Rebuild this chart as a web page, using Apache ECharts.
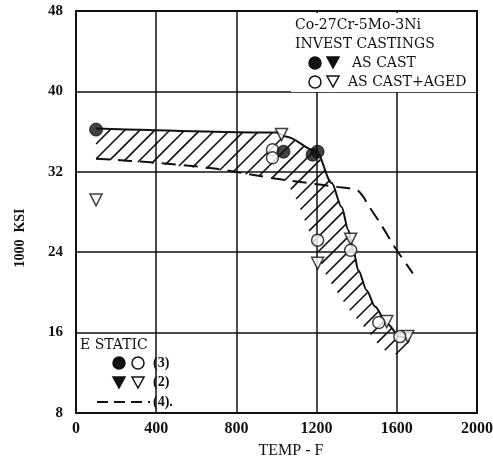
<!DOCTYPE html>
<html>
<head>
<meta charset="utf-8">
<script src="https://cdn.jsdelivr.net/npm/echarts@6/dist/echarts.min.js"></script>
<style>
  html, body { margin: 0; padding: 0; background: #fff; }
  #chart { width: 493px; height: 461px; }
</style>
</head>
<body>
<div id="chart"></div>
<script>
// ---- data ----
// axes
const xTicks = [0, 400, 800, 1200, 1600, 2000]
const yTicks = [8, 16, 24, 32, 40, 48]

// solid upper curve (top edge of the hatched band)
const upperX = [100, 1000, 1050, 1200, 1275, 1325, 1358, 1383, 1408, 1450, 1491, 1550, 1616, 1665]
const upperY = [36.3, 35.9, 35.5, 34.0, 30.9, 28.5, 26.2, 24.2, 22.2, 20.2, 18.6, 16.9, 15.6, 15.3]

// lower edge of the hatched band (right to left)
const lowX = [1640, 1580, 1520, 1450, 1380, 1320, 1250, 1200, 1165, 1100, 1050, 900, 700, 400, 100]
const lowY = [14.3, 13.7, 14.5, 16.3, 17.8, 19.5, 21.6, 24.0, 26.0, 29.2, 31.1, 31.6, 32.2, 32.8, 33.3]

// dashed curve (4)
const dashX = [100, 400, 700, 1000, 1150, 1300, 1400, 1430, 1460, 1520, 1590, 1680]
const dashY = [33.3, 32.9, 32.3, 31.3, 30.9, 30.5, 30.2, 29.6, 28.6, 26.8, 24.5, 21.9]

// as cast, filled circles
const castCircleX = [100, 1035, 1180, 1205]
const castCircleY = [36.2, 34.0, 33.7, 34.0]

// as cast + aged, open circles
const agedCircleX = [980, 980, 1205, 1370, 1510, 1615]
const agedCircleY = [34.2, 33.4, 25.2, 24.2, 17.0, 15.6]

// as cast + aged, open triangles
const agedTriX = [100, 1025, 1205, 1370, 1550, 1655]
const agedTriY = [29.2, 35.7, 22.9, 25.3, 17.1, 15.6]

// ---- helpers ----
const zip = (xs, ys) => xs.map((x, i) => [x, ys[i]])
const FONT = 'Liberation Serif'
const LEG_FONT = 'DejaVu Serif'
const INK = '#111'

/**
 * 斜线阴影: 像素空间里 x + y = c 的线段, 裁剪到多边形内
 */
function hatchSegments(poly, step) {
  let minC = Infinity
  let maxC = -Infinity
  poly.forEach(([x, y]) => {
    minC = Math.min(minC, x + y)
    maxC = Math.max(maxC, x + y)
  })
  const segs = []
  for (let c = Math.ceil(minC / step) * step; c <= maxC; c += step) {
    const xs = []
    for (let i = 0; i < poly.length; i++) {
      const [x1, y1] = poly[i]
      const [x2, y2] = poly[(i + 1) % poly.length]
      const f1 = x1 + y1 - c
      const f2 = x2 + y2 - c
      if ((f1 < 0) !== (f2 < 0)) {
        const t = f1 / (f1 - f2)
        xs.push(x1 + t * (x2 - x1))
      }
    }
    xs.sort((a, b) => a - b)
    for (let j = 0; j + 1 < xs.length; j += 2) {
      segs.push([xs[j], c - xs[j], xs[j + 1], c - xs[j + 1]])
    }
  }
  return segs
}

const bandPoly = zip(upperX, upperY).concat(zip(lowX, lowY))

const chart = echarts.init(document.getElementById('chart'), null, { renderer: 'canvas' })

const triDown = (cx, cy, filled) => ({
  type: 'polygon',
  shape: { points: [[cx - 6, cy - 5], [cx + 6, cy - 5], [cx, cy + 6]] },
  style: { fill: filled ? INK : '#fff', stroke: INK, lineWidth: 1.5 },
  z: 100
})
const dot = (cx, cy, filled) => ({
  type: 'circle',
  shape: { cx: cx, cy: cy, r: 6 },
  style: { fill: filled ? INK : '#fff', stroke: INK, lineWidth: 1.5 },
  z: 100
})
const label = (x, y, text, size, weight, family) => ({
  type: 'text',
  x: x,
  y: y,
  style: {
    text: text,
    fill: INK,
    font: (weight || 'normal') + ' ' + (size || 14) + 'px "' + (family || LEG_FONT) + '"',
    verticalAlign: 'middle'
  },
  z: 100
})

const option = {
  animation: false,
  backgroundColor: '#fff',
  grid: {
    left: 76, right: 16, top: 11, bottom: 48,
    containLabel: false,
    outerBoundsMode: 'none',
    show: true,
    borderColor: INK,
    borderWidth: 2
  },
  xAxis: {
    type: 'value',
    min: xTicks[0],
    max: xTicks[xTicks.length - 1],
    interval: 400,
    axisLine: { show: true, lineStyle: { color: INK, width: 2 } },
    axisTick: { show: false },
    splitLine: { show: true, lineStyle: { color: INK, width: 1.5 } },
    axisLabel: {
      color: INK, fontFamily: FONT, fontSize: 16, fontWeight: 'bold', margin: 8,
      showMinLabel: true, showMaxLabel: true,
      formatter: v => String(v)
    }
  },
  yAxis: {
    type: 'value',
    min: yTicks[0],
    max: yTicks[yTicks.length - 1],
    interval: 8,
    axisLine: { show: true, lineStyle: { color: INK, width: 2 } },
    axisTick: { show: false },
    splitLine: { show: true, lineStyle: { color: INK, width: 1.5 } },
    axisLabel: {
      color: INK, fontFamily: FONT, fontSize: 15, fontWeight: 'bold', margin: 13,
      showMinLabel: true, showMaxLabel: true,
      formatter: v => String(v)
    }
  },
  series: [
    {
      // 阴影带
      type: 'custom',
      data: [[0, 0]],
      clip: true,
      z: 2,
      renderItem: (params, api) => {
        const pts = bandPoly.map(p => api.coord(p))
        return {
          type: 'group',
          children: hatchSegments(pts, 15).map(s => ({
            type: 'line',
            shape: { x1: s[0], y1: s[1], x2: s[2], y2: s[3] },
            style: { stroke: INK, lineWidth: 1.6 }
          }))
        }
      }
    },
    {
      type: 'line',
      data: zip(upperX, upperY),
      smooth: 0.3,
      smoothMonotone: 'x',
      symbol: 'none',
      lineStyle: { color: INK, width: 2 },
      z: 3
    },
    {
      type: 'line',
      data: zip(dashX, dashY),
      smooth: 0.3,
      symbol: 'none',
      lineStyle: { color: INK, width: 2, type: [14, 8] },
      z: 3
    },
    {
      type: 'scatter',
      data: zip(agedTriX, agedTriY),
      symbol: 'triangle',
      symbolRotate: 180,
      symbolSize: 12,
      itemStyle: { color: '#fff', borderColor: INK, borderWidth: 1.5 },
      z: 4
    },
    {
      type: 'scatter',
      data: zip(agedCircleX, agedCircleY),
      symbol: 'circle',
      symbolSize: 12,
      itemStyle: { color: '#fff', borderColor: INK, borderWidth: 1.5 },
      z: 5
    },
    {
      type: 'scatter',
      data: zip(castCircleX, castCircleY),
      symbol: 'circle',
      symbolSize: 13,
      itemStyle: { color: INK, borderColor: INK, borderWidth: 1 },
      z: 6
    }
  ],
  graphic: [
    // 右上图例 (白底盖住网格线)
    { type: 'rect', shape: { x: 291, y: 13, width: 185, height: 79 }, style: { fill: '#fff' }, z: 90 },
    label(295, 25, 'Co-27Cr-5Mo-3Ni', 14),
    label(295, 44, 'INVEST CASTINGS', 14),
    dot(315, 63, true),
    triDown(333, 62, true),
    label(352, 63, 'AS CAST', 14),
    dot(315, 82, false),
    triDown(333, 81, false),
    label(348, 82, 'AS CAST+AGED', 14),
    // 左下图例
    label(80, 345, 'E STATIC', 14),
    dot(119, 363, true),
    dot(138, 363, false),
    label(153, 363, '(3)', 14, 'bold', FONT),
    triDown(119, 382, true),
    triDown(138, 382, false),
    label(153, 382, '(2)', 14, 'bold', FONT),
    {
      type: 'line',
      shape: { x1: 97, y1: 402, x2: 150, y2: 402 },
      style: { stroke: INK, lineWidth: 2, lineDash: [11, 6] },
      z: 100
    },
    label(153, 402, '(4).', 14, 'bold', FONT),
    // y 轴名称
    {
      type: 'text',
      x: 20,
      y: 238,
      rotation: Math.PI / 2,
      style: {
        text: '1000  KSI',
        fill: INK,
        font: 'bold 14px "' + FONT + '"',
        align: 'center',
        verticalAlign: 'middle'
      }
    },
    // x 轴名称
    {
      type: 'text',
      x: 291,
      y: 451,
      style: {
        text: 'TEMP - F',
        fill: INK,
        font: 'normal 16px "' + FONT + '"',
        align: 'center',
        verticalAlign: 'middle'
      }
    }
  ]
}

chart.setOption(option)
</script>
</body>
</html>
